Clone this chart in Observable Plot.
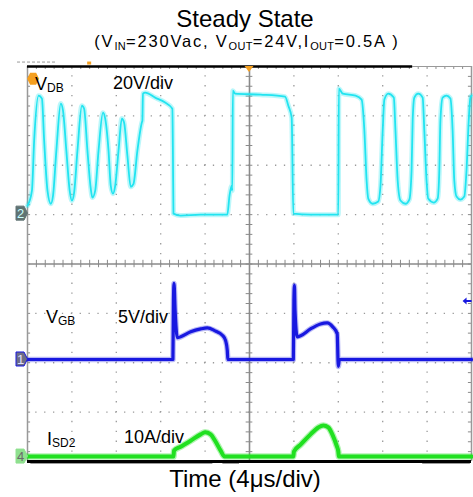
<!DOCTYPE html>
<html><head><meta charset="utf-8">
<script src="https://cdn.jsdelivr.net/npm/d3@7"></script>
<script src="https://cdn.jsdelivr.net/npm/@observablehq/plot@0.6"></script>
<style>
body{margin:0;background:#fff;font-family:"Liberation Sans",Arial,sans-serif;}
#wrap{width:473px;height:497px;overflow:hidden;}
svg{display:block;}
#chart{height:405px;}
</style></head>
<body><div id="wrap">
<svg id="head" width="473" height="58" font-family="Liberation Sans, Arial, sans-serif">
  <text x="245" y="27" text-anchor="middle" font-size="24" fill="#000">Steady State</text>
  <text x="247" y="47" text-anchor="middle" font-size="16.5" letter-spacing="1.8" fill="#000"><tspan>(V</tspan><tspan font-size="11" dy="3" letter-spacing="0.3">IN</tspan><tspan dy="-3">=230Vac, V</tspan><tspan font-size="11" dy="3" letter-spacing="0.3">OUT</tspan><tspan dy="-3">=24V,I</tspan><tspan font-size="11" dy="3" letter-spacing="0.3">OUT</tspan><tspan dy="-3">=0.5A )</tspan></text>
</svg>
<div id="chart"></div>
<svg id="foot" width="473" height="34" font-family="Liberation Sans, Arial, sans-serif">
  <text x="245" y="24" text-anchor="middle" font-size="24" fill="#000">Time (4μs/div)</text>
</svg>
</div>
<script>
// ---- data: time in µs (4 µs/div), values in V or A ----
const vdb = [
[-20.0,3.2],[-19.6,9.3],[-19.4,29.6],[-19.0,47.8],[-18.7,46.6],[-18.5,29.6],[-18.2,9.3],[-17.9,4.0],
[-17.7,7.3],[-17.4,25.5],[-17.0,44.6],[-16.8,41.7],[-16.5,25.5],[-16.2,9.3],[-16.0,5.3],[-15.8,8.5],
[-15.5,25.5],[-15.1,43.7],[-14.9,42.5],[-14.6,25.5],[-14.3,10.1],[-14.15,6.5],[-13.9,9.3],[-13.6,25.5],
[-13.2,40.9],[-13.0,38.5],[-12.7,25.5],[-12.5,11.3],[-12.3,8.1],[-12.1,11.3],[-11.8,25.5],[-11.5,38.5],
[-11.3,36.9],[-11.0,23.5],[-10.7,10.9],[-10.45,12.1],[-10.1,25.5],[-9.7,36.9],[-9.65,37.7],[-9.6,48.6],
[-9.4,49.0],[-8.5,47.0],[-7.6,45.0],[-6.95,42.5],[-6.9,25.5],[-6.85,0],[-6.2,-0.8],[-4.4,-0.4],
[-2.0,-0.4],[-1.8,7.3],[-1.6,11.3],[-1.55,9.3],[-1.5,49.8],[-1.3,48.6],[1.0,48.2],[3.2,47.4],
[3.5,43.7],[3.8,38.9],[3.95,0],[5.5,-0.4],[8.0,-0.4],[8.05,50.6],[8.4,48.6],[9.55,47.8],
[10.1,46.2],[10.35,33.6],[10.55,13.4],[10.7,6.1],[11.1,4.0],[11.6,4.9],[11.8,11.3],[12.0,33.6],
[12.15,46.2],[12.5,48.6],[13.0,47.0],[13.15,33.6],[13.35,13.4],[13.6,5.3],[14.05,4.0],[14.4,5.7],
[14.6,17.4],[14.7,37.7],[14.85,47.0],[15.2,48.6],[15.6,47.0],[15.75,33.6],[15.95,13.4],[16.1,6.1],
[16.6,4.5],[16.95,6.1],[17.1,17.4],[17.2,37.7],[17.4,47.0],[17.75,47.8],[18.1,46.6],[18.3,33.6],
[18.45,13.4],[18.65,6.9],[19.0,5.7],[19.35,6.9],[19.55,17.4],[19.75,37.7],[19.9,47.0],[20.0,47.8]
];
const vgb = [
[-20,0],[-6.9,0],[-6.85,6.0],[-6.8,7.7],[-6.7,5.0],[-6.5,2.2],[-6.2,2.3],[-5.3,2.8],[-4.4,3.1],
[-3.8,3.2],[-3.1,2.9],[-2.4,2.4],[-2.15,1.9],[-2.0,0.9],[-1.95,0],[3.95,0],[4.0,6.0],[4.05,7.5],
[4.1,5.0],[4.3,2.3],[4.6,2.4],[5.5,3.1],[6.4,3.6],[7.0,3.7],[7.5,3.3],[7.9,2.6],[8.0,-0.7],[8.1,0],[20,0]
];
const isd2 = [
[-20,0],[-6.85,0],[-6.8,1.2],[-6.2,2.0],[-5.3,3.2],[-4.4,4.5],[-4.0,4.9],[-3.5,4.5],[-3.1,3.2],
[-2.6,1.2],[-2.25,0],[3.95,0],[4.0,1.0],[4.6,2.4],[5.5,4.5],[6.2,5.9],[6.65,6.3],[7.1,5.9],
[7.5,4.3],[7.85,2.2],[8.0,1.0],[8.05,0],[20,0]
];
// channel settings: ground position (divisions from centre) and units per division
const ch2 = {ground: 1.02, perDiv: 20};
const ch1 = {ground: -1.934, perDiv: 5};
const ch4 = {ground: -3.9, perDiv: 10};
const usPerDiv = 4;

// screen grid (divisions)
const majorX = d3.range(-16, 17, 4).filter(d => d !== 0);
const majorY = [-3, -2, -1, 1, 2, 3];
const minorX = d3.range(-20, 20.01, usPerDiv / 5);
const minorY = d3.range(-4, 4.01, 0.2);

const cyan = "#22e4f0", blue = "#1818e0", green = "#20e020", grid = "#9a9a9a";

const onScreen = ch => d => ch.ground + d[1] / ch.perDiv;

const plot = Plot.plot({
  width: 473, height: 405,
  marginLeft: 27, marginRight: 2, marginTop: 8, marginBottom: 2,
  x: {domain: [-20, 20], axis: null},
  y: {domain: [-4, 4], axis: null},
  style: {background: "white", overflow: "visible"},
  marks: [
    Plot.ruleX(majorX, {stroke: grid, strokeWidth: 1.3, strokeDasharray: "1.3 8.575", strokeDashoffset: 0.65}),
    Plot.ruleY(majorY, {stroke: grid, strokeWidth: 1.3, strokeDasharray: "1.3 7.58", strokeDashoffset: 0.65}),
    // centre cross with ticks
    Plot.ruleX([0], {stroke: "#8a8a8a", strokeWidth: 1.6}),
    Plot.ruleY([0], {stroke: "#8a8a8a", strokeWidth: 1.6}),
    Plot.ruleX(minorX, {x: d => d, y1: -0.075, y2: 0.075, stroke: "#8a8a8a", strokeWidth: 1}),
    Plot.ruleY(minorY, {y: d => d, x1: -0.3, x2: 0.3, stroke: "#8a8a8a", strokeWidth: 1}),
    // edge ticks
    Plot.ruleY(minorY, {y: d => d, x1: -20, x2: -19.72, stroke: "#8a8a8a", strokeWidth: 1}),
    Plot.ruleY(minorY, {y: d => d, x1: 19.72, x2: 20, stroke: "#8a8a8a", strokeWidth: 1}),
    Plot.ruleX(minorX, {x: d => d, y1: 3.94, y2: 4, stroke: "#8a8a8a", strokeWidth: 1}),
    // frame
    Plot.ruleX([-20, 20], {stroke: "#999", strokeWidth: 1.5}),
    Plot.ruleY([4], {x1: 14.7, x2: 20, stroke: "#999", strokeWidth: 1.2}),
    Plot.ruleY([4], {x1: -20, x2: 14.7, stroke: "#000", strokeWidth: 2.5}),
    Plot.ruleY([-4.04], {x1: -19.7, x2: -3.3, stroke: "#999", strokeWidth: 1}),
    Plot.ruleY([-4.04], {x1: -2.4, x2: -0.9, stroke: "#999", strokeWidth: 1}),
    Plot.ruleY([-4.04], {x1: 15.6, x2: 19.9, stroke: "#999", strokeWidth: 1}),
    // traces
    Plot.line(vdb, {x: d => d[0], y: onScreen(ch2), stroke: cyan, strokeOpacity: 0.3, strokeWidth: 5, curve: "monotone-x"}),
    Plot.line(vdb, {x: d => d[0], y: onScreen(ch2), stroke: cyan, strokeWidth: 1.8, curve: "monotone-x"}),
    Plot.line(vgb, {x: d => d[0], y: onScreen(ch1), stroke: blue, strokeOpacity: 0.3, strokeWidth: 5.5, curve: "monotone-x"}),
    Plot.line(vgb, {x: d => d[0], y: onScreen(ch1), stroke: blue, strokeWidth: 3.2, curve: "monotone-x"}),
    Plot.ruleY([-4], {stroke: "#000", strokeWidth: 3}),
    Plot.line(isd2, {x: d => d[0], y: onScreen(ch4), stroke: green, strokeOpacity: 0.35, strokeWidth: 6.5, curve: "monotone-x"}),
    Plot.line(isd2, {x: d => d[0], y: onScreen(ch4), stroke: green, strokeWidth: 4, curve: "monotone-x"})
  ]
});
document.getElementById("chart").appendChild(plot);

// annotations positioned through the plot's scales
const sxo = plot.scale("x"), syo = plot.scale("y");
const sx = sxo.apply ? v => sxo.apply(v) : d3.scaleLinear([-20, 20], [27, 471]);
const sy = syo.apply ? v => syo.apply(v) : d3.scaleLinear([-4, 4], [403, 8]);
const svg = d3.select(plot);
const FONT = "Liberation Sans, Arial, sans-serif";

// top-left orange marker & trigger markers
svg.append("path").attr("transform", `translate(${sx(-19.45)},${sy(3.74)})`)
  .attr("d", "M-3,-6L3,-6L6,0L3,6L-3,6L-6,0Z").attr("fill", "#f5a020");
svg.append("path").attr("transform", `translate(${sx(0)},${sy(4)})`)
  .attr("d", "M-4.5,0L4.5,0L0,6Z").attr("fill", "#f5a020");
svg.append("path").attr("transform", `translate(${sx(-14.4)},${sy(4.07)})`)
  .attr("d", "M-2,-1L2,-1L2,2L-2,2Z").attr("fill", "#f5a020");
svg.append("line").attr("x1", 17).attr("x2", 57).attr("y1", sy(4.08)).attr("y2", sy(4.08))
  .attr("stroke", "#999").attr("stroke-dasharray", "3 2");

function label(t, yd, parts) {
  const txt = svg.append("text").attr("x", sx(t)).attr("y", sy(yd))
    .attr("text-anchor", "start").attr("font-family", FONT).attr("fill", "#000");
  let base = 0;
  parts.forEach(([s, sub]) => {
    const dy = (sub ? 2 : 0) - base; base = sub ? 2 : 0;
    txt.append("tspan").attr("dy", dy).attr("font-size", sub ? 12 : 18).text(s);
  });
}
label(-19.28, 3.514, [["V"], ["DB", 1]]);
label(-12.25, 3.534, [["20V/div"]]);
label(-18.29, -1.205, [["V"], ["GB", 1]]);
label(-11.8, -1.205, [["5V/div"]]);
label(-18.2, -3.676, [["I"], ["SD2", 1]]);
label(-11.26, -3.635, [["10A/div"]]);

// channel ground markers
function marker(ch, name, fill, stroke, color) {
  const cy = sy(ch.ground);
  const g = svg.append("g").attr("transform", `translate(0,${cy})`);
  g.append("path").attr("d", "M16,-7L24,-7L27.5,0L24,7L16,7Z").attr("fill", fill)
    .attr("stroke", stroke).attr("stroke-width", 1);
  g.append("text").attr("x", 20.5).attr("y", 5).attr("text-anchor", "middle")
    .attr("font-family", FONT).attr("font-size", 13).attr("fill", color).text(name);
}
marker(ch2, "2", "#607373", "#607373", "#c8ffff");
marker(ch1, "1", "#6c6c86", blue, "#e0e0ff");
marker(ch4, "4", "#8ee08e", "#8ee08e", "#6a6a6a");

// trigger level arrow on the right
svg.append("path").attr("transform", `translate(${sx(19.6)},${sy(-0.76)})`)
  .attr("d", "M-4,0L0,-3.5L0,3.5Z M0,-1L5,-1L5,1L0,1Z").attr("fill", blue);
</script>
</body></html>
